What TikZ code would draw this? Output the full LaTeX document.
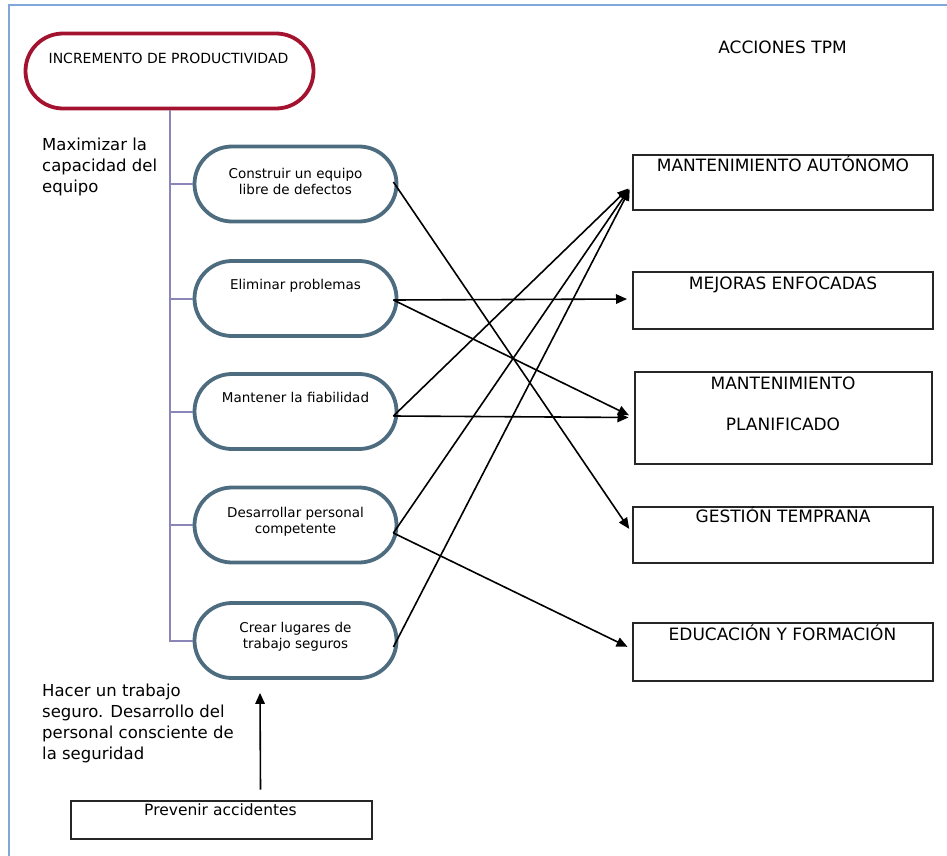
\documentclass[tikz,border=0pt]{standalone}
\usepackage{fontspec}
\setmainfont{DejaVu Sans}
\usetikzlibrary{arrows.meta,shapes.misc}
\definecolor{framebl}{HTML}{7FA7D9}
\definecolor{rootred}{HTML}{A3122F}
\definecolor{pillblue}{HTML}{4E6C80}
\definecolor{treepurple}{HTML}{8A87B8}
\begin{document}
\begin{tikzpicture}[x=1pt,y=-1pt,
  rootpill/.style={rounded rectangle, draw=rootred, line width=3.8pt,
    minimum width=288pt, minimum height=75pt, inner sep=0pt},
  goalpill/.style={rounded rectangle, draw=pillblue, line width=3.8pt,
    minimum width=202pt, minimum height=75pt, inner sep=0pt},
  actbox/.style={rectangle, draw=black!85, line width=2pt,
    minimum width=300pt, inner sep=0pt},
  tree/.style={draw=treepurple, line width=2pt},
  arr/.style={draw=black, line width=1.6pt, -{Triangle[length=11pt,width=9.5pt]}},
  ptxt/.style={font=\fontsize{13.5}{16}\selectfont, align=center, inner sep=0pt, anchor=north},
  btxt/.style={font=\fontsize{17}{21}\selectfont, inner sep=0pt, anchor=base},
  sidetxt/.style={font=\fontsize{16.5}{21}\selectfont, align=left, inner sep=0pt, anchor=north west}
]
\path[use as bounding box] (0,0) rectangle (947,856);

% page frame (top and left edges)
\draw[framebl, line width=1.8pt] (947,5) -- (9,5) -- (9,856);

% root objective
\node[rootpill] (root) at (169.5,71) {};
\node[font=\fontsize{14}{17}\selectfont, inner sep=0pt, anchor=base] (roott) at (168.5,63.3) {INCREMENTO DE PRODUCTIVIDAD};

% goals
\node[goalpill] (p1) at (295.5,184) {};
\node[goalpill] (p2) at (295.5,298.5) {};
\node[goalpill] (p3) at (295.5,411.5) {};
\node[goalpill] (p4) at (295.5,525) {};
\node[goalpill] (p5) at (295.5,640.5) {};
\node[ptxt] (t1) at (295.5,168) {Construir un equipo\\libre de defectos};
\node[ptxt] (t2) at (295.5,279) {Eliminar problemas};
\node[ptxt] (t3) at (295.5,392.5) {Mantener la fiabilidad};
\node[ptxt] (t4) at (295.5,507) {Desarrollar personal\\competente};
\node[ptxt] (t5) at (295.5,622) {Crear lugares de\\trabajo seguros};

% tree from the root to the goals
\draw[tree] (root.south) |- (p5.west);
\foreach \g in {p1,p2,p3,p4} { \draw[tree] (\g.west) -| (root.south); }

% side notes
\node[sidetxt] (maxi) at (42,137.5) {Maximizar la\\capacidad del\\equipo};
\node[sidetxt] (hacer) at (42,684) {Hacer un trabajo\\seguro. Desarrollo del\\personal consciente de\\la seguridad};

% TPM actions
\node[btxt] (acc) at (782.5,53.3) {ACCIONES TPM};
\node[actbox, minimum height=55pt] (b1) at (783,182.5) {};
\node[actbox, minimum height=57pt] (b2) at (783,300) {};
\node[actbox, minimum width=297pt, minimum height=92pt] (b3) at (783,417.5) {};
\node[actbox, minimum height=56pt] (b4) at (783,534.5) {};
\node[actbox, minimum height=58pt] (b5) at (783,651.5) {};
\node[btxt] (l1) at (783,171.5) {MANTENIMIENTO AUTÓNOMO};
\node[btxt] (l2) at (783,289.3) {MEJORAS ENFOCADAS};
\node[btxt, align=center, anchor=north] (l3) at (783,376.9) {MANTENIMIENTO\\[19.7pt]PLANIFICADO};
\node[btxt] (l4) at (783,522.7) {GESTIÓN TEMPRANA};
\node[btxt] (l5) at (782.5,640) {EDUCACIÓN Y FORMACIÓN};

% accident prevention
\node[actbox, minimum width=301pt, minimum height=38pt] (prev) at (221,819.5) {};
\node[font=\fontsize{15.5}{19}\selectfont, inner sep=0pt, anchor=base] (prevt) at (220.5,815.7) {Prevenir accidentes};

% links goal -> action
\begin{scope}[shorten >=5pt]
\draw[arr] ([xshift=-5pt,yshift=2pt]p1.east) -- ([yshift=1.5pt]b4.west);
\draw[arr] ([xshift=-5pt,yshift=-1.5pt]p2.east) -- ([yshift=1pt]b2.west);
\draw[arr] ([xshift=-5pt,yshift=-1.5pt]p2.east) -- (b3.west);
\draw[arr] ([xshift=-5pt,yshift=-4.5pt]p3.east) -- ([yshift=-2.5pt]b1.west);
\draw[arr] ([xshift=-5pt,yshift=-4.5pt]p3.east) -- (b3.west);
\draw[arr] ([xshift=-5pt,yshift=-8pt]p4.east) -- ([yshift=-2.5pt]b1.west);
\draw[arr] ([xshift=-5pt,yshift=-8pt]p4.east) -- ([yshift=2.5pt]b5.west);
\draw[arr] ([xshift=-5pt,yshift=-6.5pt]p5.east) -- ([yshift=-2.5pt]b1.west);
\end{scope}
\draw[arr] ([xshift=39.5pt,yshift=10pt]prev.north) -- ([xshift=-35.5pt,yshift=-13pt]p5.south);
\end{tikzpicture}
\end{document}
